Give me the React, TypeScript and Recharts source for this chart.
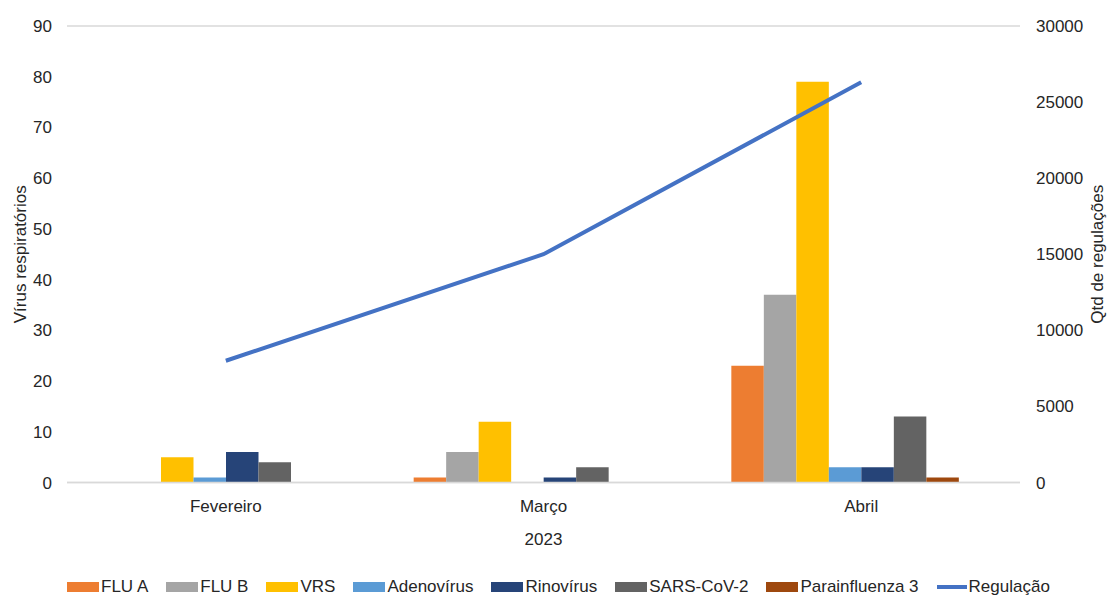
import React from "react";
import {
  ComposedChart,
  Bar,
  Line,
  XAxis,
  YAxis,
  CartesianGrid,
} from "recharts";

// Months of 2023 shown on the category axis
const months = ["Fevereiro", "Março", "Abril"];

// Positive samples per respiratory virus (left axis)
const fluA = [0, 1, 23];
const fluB = [0, 6, 37];
const vrs = [5, 12, 79];
const adenovirus = [1, 0, 3];
const rinovirus = [6, 1, 3];
const sarsCov2 = [4, 3, 13];
const parainfluenza3 = [0, 0, 1];

// Number of regulations (right axis)
const regulacao = [8000, 15000, 26300];

const leftTicks = [0, 10, 20, 30, 40, 50, 60, 70, 80, 90];
const rightTicks = [0, 5000, 10000, 15000, 20000, 25000, 30000];

const series = [
  { key: "fluA", name: "FLU A", color: "#ED7D31", values: fluA },
  { key: "fluB", name: "FLU B", color: "#A5A5A5", values: fluB },
  { key: "vrs", name: "VRS", color: "#FFC000", values: vrs },
  { key: "adeno", name: "Adenovírus", color: "#5B9BD5", values: adenovirus },
  { key: "rino", name: "Rinovírus", color: "#264478", values: rinovirus },
  { key: "sars", name: "SARS-CoV-2", color: "#636363", values: sarsCov2 },
  { key: "para", name: "Parainfluenza 3", color: "#9E480E", values: parainfluenza3 },
];

const lineColor = "#4472C4";

const data = months.map((m, i) => {
  const row: Record<string, string | number> = { month: m, regulacao: regulacao[i] };
  series.forEach((s) => {
    row[s.key] = s.values[i];
  });
  return row;
});

const FONT = "'Liberation Sans', Arial, sans-serif";
const TEXT = "#262626";
const GRID = "#D9D9D9";

const tickStyle = { fontSize: 17, fill: TEXT, fontFamily: FONT };

function Legend() {
  return (
    <div
      style={{
        position: "absolute",
        left: 67,
        top: 577,
        display: "flex",
        alignItems: "center",
        gap: 18,
        fontFamily: FONT,
        fontSize: 17,
        color: TEXT,
        lineHeight: "20px",
        whiteSpace: "nowrap",
      }}
    >
      {series.map((s) => (
        <div key={s.key} style={{ display: "flex", alignItems: "center" }}>
          <span style={{ width: 32, height: 10, background: s.color, marginRight: 2, display: "inline-block" }} />
          <span>{s.name}</span>
        </div>
      ))}
      <div style={{ display: "flex", alignItems: "center" }}>
        <span style={{ width: 30, height: 4, background: lineColor, marginRight: 2, display: "inline-block" }} />
        <span>Regulação</span>
      </div>
    </div>
  );
}

export default function App() {
  return (
    <div style={{ position: "absolute", left: 0, top: 0, width: 1109, height: 596, background: "#fff", overflow: "hidden" }}>
      <ComposedChart
        width={1109}
        height={596}
        data={data}
        margin={{ top: 26, right: 0, bottom: 43.5, left: 0 }}
        barGap={0}
      >
        <CartesianGrid vertical={false} stroke={GRID} strokeWidth={1.5} />
        <XAxis
          dataKey="month"
          height={70}
          axisLine={{ stroke: GRID, strokeWidth: 1.5 }}
          tickLine={false}
          tickMargin={11}
          tick={tickStyle}
          label={{
            content: (props: any) => {
              const vb = props.viewBox;
              return (
                <text
                  x={vb.x + vb.width / 2}
                  y={544.5}
                  textAnchor="middle"
                  fontSize={17}
                  fill={TEXT}
                  fontFamily={FONT}
                >
                  2023
                </text>
              );
            },
          }}
        />
        <YAxis
          yAxisId="left"
          orientation="left"
          width={67}
          domain={[0, 90]}
          ticks={leftTicks}
          axisLine={false}
          tickLine={false}
          tickMargin={9}
          tick={tickStyle}
          label={{
            content: (props: any) => {
              const vb = props.viewBox;
              const cy = vb.y + vb.height / 2;
              return (
                <text
                  x={20}
                  y={cy}
                  transform={`rotate(-90 20 ${cy})`}
                  textAnchor="middle"
                  dominantBaseline="central"
                  fontSize={17}
                  fill={TEXT}
                  fontFamily={FONT}
                >
                  Vírus respiratórios
                </text>
              );
            },
          }}
        />
        <YAxis
          yAxisId="right"
          orientation="right"
          width={89}
          domain={[0, 30000]}
          ticks={rightTicks}
          axisLine={false}
          tickLine={false}
          tickMargin={10}
          tick={tickStyle}
          label={{
            content: (props: any) => {
              const vb = props.viewBox;
              const cy = vb.y + vb.height / 2;
              return (
                <text
                  x={1097}
                  y={cy}
                  transform={`rotate(-90 1097 ${cy})`}
                  textAnchor="middle"
                  dominantBaseline="central"
                  fontSize={17}
                  fill={TEXT}
                  fontFamily={FONT}
                >
                  Qtd de regulações
                </text>
              );
            },
          }}
        />
        {series.map((s) => (
          <Bar
            key={s.key}
            yAxisId="left"
            dataKey={s.key}
            name={s.name}
            fill={s.color}
            barSize={32.5}
            isAnimationActive={false}
          />
        ))}
        {/* empty slot that keeps each cluster's spacing */}
        <Bar yAxisId="left" dataKey="spacer" barSize={32.5} fill="none" legendType="none" isAnimationActive={false} />
        <Line
          yAxisId="right"
          dataKey="regulacao"
          name="Regulação"
          stroke={lineColor}
          strokeWidth={4}
          dot={false}
          activeDot={false}
          isAnimationActive={false}
        />
      </ComposedChart>
      <Legend />
    </div>
  );
}
